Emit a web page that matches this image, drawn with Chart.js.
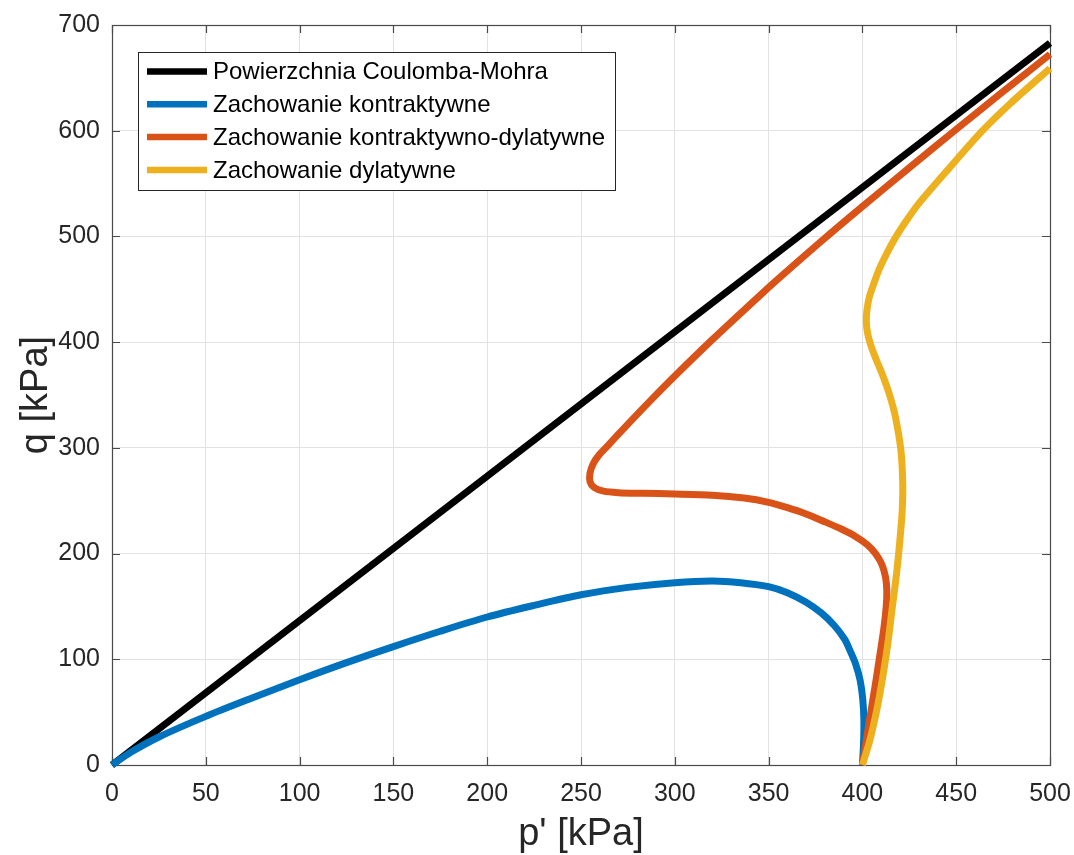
<!DOCTYPE html>
<html>
<head>
<meta charset="utf-8">
<title>Ścieżki naprężeń p'-q</title>
<script src="https://cdn.jsdelivr.net/npm/chart.js@4.4.1/dist/chart.umd.min.js"></script>
<style>
  html, body { margin: 0; padding: 0; background: #ffffff; }
  #wrap { width: 1074px; height: 855px; }
</style>
</head>
<body>
<div id="wrap"><canvas id="c" width="1074" height="855"></canvas></div>
<script>
// Axis ticks
const xTicks = [0, 50, 100, 150, 200, 250, 300, 350, 400, 450, 500];
const yTicks = [0, 100, 200, 300, 400, 500, 600, 700];

// Series labels and colours
const seriesLabels = [
  'Powierzchnia Coulomba-Mohra',
  'Zachowanie kontraktywne',
  'Zachowanie kontraktywno-dylatywne',
  'Zachowanie dylatywne'
];
const seriesColors = ['#000000', '#0072BD', '#D95319', '#EDB120'];

// Coulomb-Mohr failure line
const cmP = [0, 500];
const cmQ = [0, 683];

// Contractive path
const contrP = [400, 400.6, 400.8, 400.2, 398.8, 396.5, 393.7, 390.5, 385, 378, 370, 360, 350, 335, 320, 300, 275, 250, 225, 200, 175, 150, 125, 100, 75, 50, 25, 10, 0];
const contrQ = [0, 20, 42, 62, 80, 95, 107, 119, 132, 144, 154, 163, 168.7, 172.5, 174, 172.5, 168, 161, 151, 140, 126.5, 112, 96.8, 80.6, 63.6, 46, 26.5, 12, 0];

// Contractive-dilative path
const cdP = [400, 401.8, 404, 406.8, 409.4, 411.5, 412.7, 413, 412.3, 410.3, 407, 402.5, 396.5, 389, 380, 370, 360, 350, 337, 320, 300, 283, 270, 262, 257, 254.8, 254.8, 256.5, 259.5, 263.7, 275, 287, 300, 320, 345, 356, 378, 400, 425, 450, 475, 500];
const cdQ = [0, 20, 45, 75, 105, 130, 150, 165, 178, 190, 200, 208.5, 216, 223, 230, 237.5, 243.5, 248.5, 252.5, 255.2, 256.4, 257, 257.6, 259, 262.5, 268, 276, 285, 293, 301, 322.5, 344.7, 368, 402.4, 443.6, 461.2, 495.3, 528.3, 565, 601.3, 637, 672.3];

// Dilative path
const dilP = [400, 404, 408, 411.2, 413.8, 416, 418.2, 420, 421.2, 421.5, 420.5, 417.5, 414.5, 410.5, 407, 404.3, 402.6, 402.1, 402.4, 403.6, 406, 409.2, 413.3, 418, 423.5, 430, 445.5, 464, 479, 500];
const dilQ = [0, 23.6, 55, 87, 118, 150, 181, 213, 240, 266, 298, 330, 350, 370, 385, 398, 410, 420, 430, 442, 455, 470, 485, 500, 515, 531, 563, 600, 626, 659];

const seriesP = [cmP, contrP, cdP, dilP];
const seriesQ = [cmQ, contrQ, cdQ, dilQ];

const FONT = "'Liberation Sans', Arial, Helvetica, sans-serif";
const AXIS_COLOR = '#262626';

function toPoints(ps, qs) {
  return ps.map((p, i) => ({ x: p, y: qs[i] }));
}

const datasets = seriesLabels.map((label, i) => ({
  label: label,
  data: toPoints(seriesP[i], seriesQ[i]),
  borderColor: seriesColors[i],
  backgroundColor: seriesColors[i],
  borderWidth: 7,
  showLine: true,
  pointRadius: 0,
  pointHoverRadius: 0,
  tension: i === 0 ? 0 : 0.3,
  fill: false,
  clip: false,
  order: seriesLabels.length - i
}));

// Axes box with inward tick marks (drawn beneath the curves)
const boxPlugin = {
  id: 'boxTicks',
  beforeDatasetsDraw(chart) {
    const { ctx, chartArea: a, scales } = chart;
    const len = 8;
    ctx.save();
    ctx.strokeStyle = '#4a4a4a';
    ctx.lineWidth = 1.2;
    ctx.beginPath();
    xTicks.forEach(v => {
      const x = Math.round(scales.x.getPixelForValue(v)) + 0.5;
      ctx.moveTo(x, a.bottom); ctx.lineTo(x, a.bottom - len);
      ctx.moveTo(x, a.top); ctx.lineTo(x, a.top + len);
    });
    yTicks.forEach(v => {
      const y = Math.round(scales.y.getPixelForValue(v)) + 0.5;
      ctx.moveTo(a.left, y); ctx.lineTo(a.left + len, y);
      ctx.moveTo(a.right, y); ctx.lineTo(a.right - len, y);
    });
    ctx.stroke();
    ctx.strokeRect(a.left + 0.5, a.top + 0.5, a.right - a.left, a.bottom - a.top);
    ctx.restore();
  }
};

// Legend box in the upper-left corner of the plot
const legendPlugin = {
  id: 'insideLegend',
  afterDraw(chart) {
    const { ctx, chartArea: a } = chart;
    const left = a.left + 26, top = a.top + 27;
    const w = 477, h = 138;
    const rowH = 32.8, firstRow = 19.5;
    ctx.save();
    ctx.fillStyle = '#ffffff';
    ctx.fillRect(left, top, w, h);
    ctx.strokeStyle = '#262626';
    ctx.lineWidth = 1;
    ctx.strokeRect(left + 0.5, top + 0.5, w, h);
    ctx.font = '24px ' + FONT;
    ctx.textBaseline = 'middle';
    ctx.textAlign = 'left';
    chart.data.datasets.forEach((ds, i) => {
      const y = top + firstRow + i * rowH;
      ctx.strokeStyle = ds.borderColor;
      ctx.lineWidth = 6.5;
      ctx.beginPath();
      ctx.moveTo(left + 9, y);
      ctx.lineTo(left + 69, y);
      ctx.stroke();
      ctx.fillStyle = '#000000';
      ctx.fillText(ds.label, left + 75, y + 1);
    });
    ctx.restore();
  }
};

new Chart(document.getElementById('c'), {
  type: 'scatter',
  data: { datasets: datasets },
  options: {
    responsive: false,
    animation: false,
    events: [],
    layout: { padding: { top: 25, right: 24, left: 0, bottom: 0 } },
    plugins: {
      legend: { display: false },
      tooltip: { enabled: false }
    },
    scales: {
      x: {
        type: 'linear',
        min: 0, max: 500,
        afterBuildTicks(scale) { scale.ticks = xTicks.map(v => ({ value: v })); },
        afterFit(scale) { scale.height = 90; scale.paddingLeft = 0; scale.paddingRight = 0; },
        grid: { color: '#e2e2e2', lineWidth: 1, drawTicks: false },
        border: { display: false },
        ticks: { color: AXIS_COLOR, font: { family: FONT, size: 25 }, padding: 14, maxRotation: 0 },
        title: {
          display: true, text: "p' [kPa]", color: AXIS_COLOR,
          font: { family: FONT, size: 38, lineHeight: 1 }, padding: { top: 0, bottom: 1 }
        }
      },
      y: {
        type: 'linear',
        min: 0, max: 700,
        afterBuildTicks(scale) { scale.ticks = yTicks.map(v => ({ value: v })); },
        afterFit(scale) { scale.width = 112; scale.paddingTop = 0; scale.paddingBottom = 0; },
        grid: { color: '#e2e2e2', lineWidth: 1, drawTicks: false },
        border: { display: false },
        ticks: { color: AXIS_COLOR, font: { family: FONT, size: 25 }, padding: 12 },
        title: {
          display: true, text: 'q [kPa]', color: AXIS_COLOR,
          font: { family: FONT, size: 38, lineHeight: 1 }, padding: { top: 18, bottom: 0 }
        }
      }
    }
  },
  plugins: [boxPlugin, legendPlugin]
});
</script>
</body>
</html>
